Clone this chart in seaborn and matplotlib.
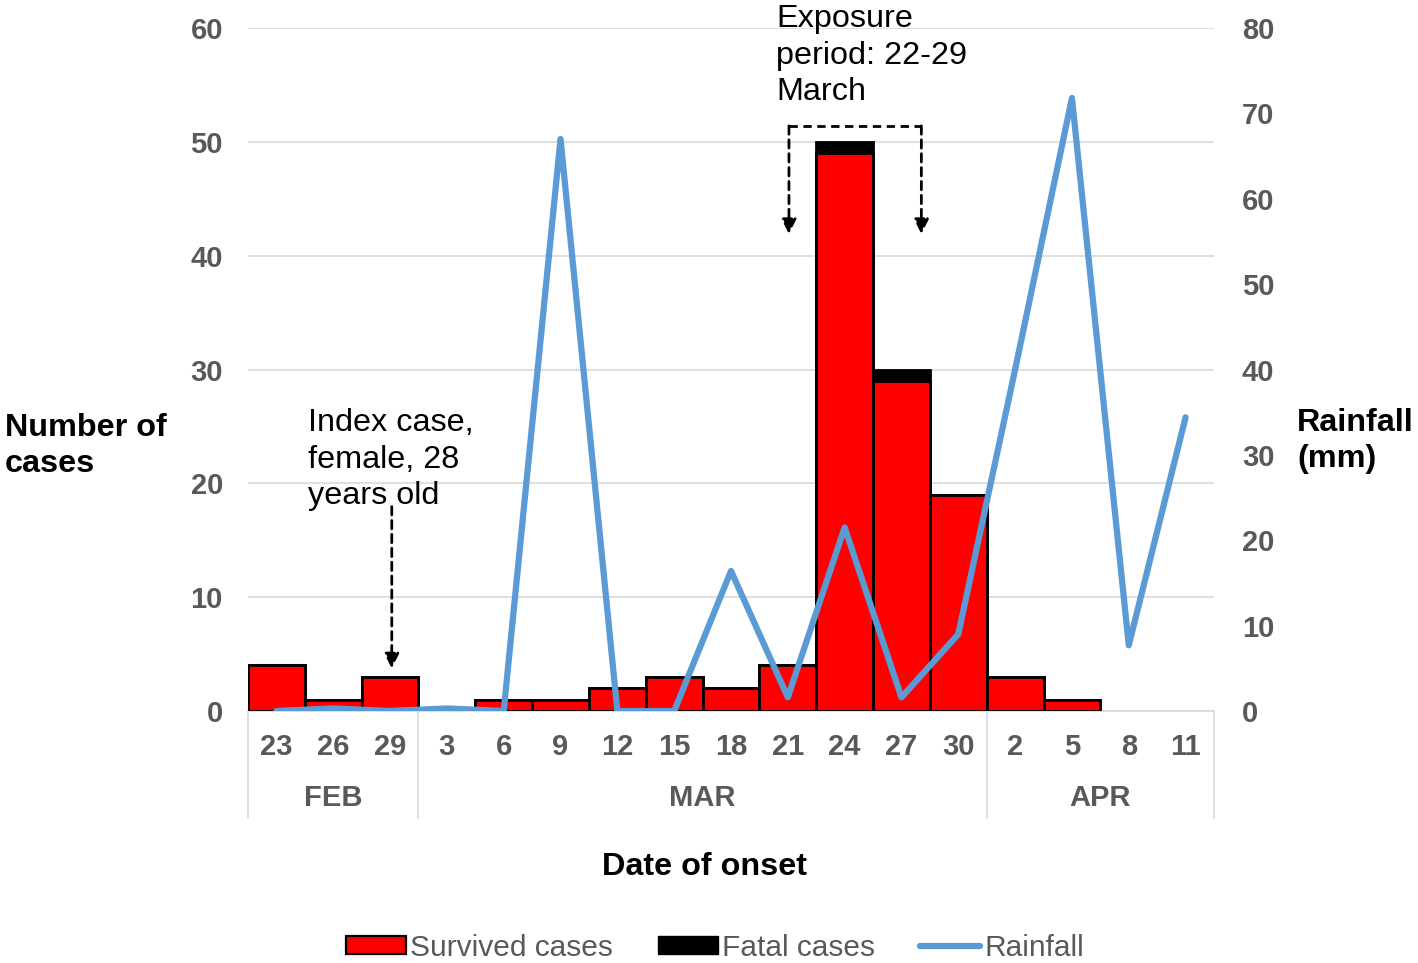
import numpy as np
import pandas as pd
import matplotlib
matplotlib.use("Agg")
import matplotlib.pyplot as plt
from matplotlib.patches import Patch
from matplotlib.lines import Line2D
import seaborn as sns

dates = ["23", "26", "29", "3", "6", "9", "12", "15", "18", "21", "24", "27", "30", "2", "5", "8", "11"]
months = ["FEB", "MAR", "APR"]
month_counts = [3, 10, 4]
survived = [4, 1, 3, 0, 1, 1, 2, 3, 2, 4, 49, 29, 19, 3, 1, 0, 0]
fatal = [0, 0, 0, 0, 0, 0, 0, 0, 0, 0, 1, 1, 0, 0, 0, 0, 0]
rainfall = [0, 0.3, 0, 0.3, 0, 67, 0, 0, 16.4, 1.6, 21.5, 1.6, 9, 40, 71.8, 7.7, 34.4]

sns.set_theme(style="white")
plt.rcParams['font.family'] = ['Liberation Sans', 'DejaVu Sans']

df = pd.DataFrame({"date": dates, "survived": survived, "fatal": fatal,
                   "total": np.array(survived) + np.array(fatal), "rain": rainfall})

fig = plt.figure(figsize=(14.18, 9.63), dpi=100)
ax = fig.add_axes([248/1418, 1 - 711/963, (1214-248)/1418, (711-28)/963])

gray = "#595959"
sns.barplot(data=df, x="date", y="total", order=dates, color="black", width=1.0,
            edgecolor="black", linewidth=2.0, saturation=1, ax=ax, zorder=2)
sns.barplot(data=df, x="date", y="survived", order=dates, color="#FF0000", width=1.0,
            edgecolor="black", linewidth=2.0, saturation=1, ax=ax, zorder=3)
for p in ax.patches:
    if p.get_height() == 0:
        p.set_visible(False)

ax.set_ylim(0, 60)
ax.set_xlim(-0.5, len(dates) - 0.5)
ax.set_yticks(range(0, 61, 10))
ax.yaxis.grid(True, color="#d9d9d9", linewidth=1.2, zorder=0)
ax.set_axisbelow(True)
for s in ["top", "right", "left"]:
    ax.spines[s].set_visible(False)
ax.spines["bottom"].set_color("#d9d9d9")
ax.spines["bottom"].set_linewidth(1.2)
ax.tick_params(axis="y", length=0, pad=18, labelsize=21, labelcolor=gray)
ax.tick_params(axis="x", length=0, pad=16, labelsize=21, labelcolor=gray)
for t in ax.get_yticklabels() + ax.get_xticklabels():
    t.set_fontweight("bold")
ax.set_xlabel("")
ax.set_ylabel("")

ax2 = ax.twinx()
sns.lineplot(x=np.arange(len(dates)), y=rainfall, ax=ax2, color="#5B9BD5", linewidth=4.5, zorder=5)
ax2.set_ylim(0, 80)
ax2.set_yticks(range(0, 81, 10))
for s in ["top", "right", "left", "bottom"]:
    ax2.spines[s].set_visible(False)
ax2.tick_params(axis="y", length=0, pad=20, labelsize=21, labelcolor=gray)
for t in ax2.get_yticklabels():
    t.set_fontweight("bold")
ax2.set_ylabel("")

# month group separators and labels
trans = ax.get_xaxis_transform()
bounds = np.concatenate([[0], np.cumsum(month_counts)]) - 0.5
sep_bottom = -(818 - 711) / (711 - 28)
for b in bounds:
    ax.plot([b, b], [0, sep_bottom], transform=trans, color="#d9d9d9", lw=1.2, clip_on=False)
for i, m in enumerate(months):
    ax.text((bounds[i] + bounds[i+1]) / 2, -(798 - 711) / (711 - 28), m, transform=trans,
            ha="center", va="center", fontsize=21, fontweight="bold", color=gray)

# axis titles
fig.text(5/1418, 1 - 446/963, "Number of\ncases", ha="left", va="center", fontsize=23.3,
         fontweight="bold", color="black", linespacing=1.3)
fig.text(1297/1418, 1 - 441/963, "Rainfall\n(mm)", ha="left", va="center", fontsize=23.3,
         fontweight="bold", color="black", linespacing=1.3)
fig.text(704/1418, 1 - 867/963, "Date of onset", ha="center", va="center", fontsize=23.3,
         fontweight="bold", color="black")

# annotations
ax.text(0.55, 26.6, "Index case,\nfemale, 28\nyears old", ha="left", va="top", fontsize=23.3,
        color="black", linespacing=1.28, zorder=6)
ax.annotate("", xy=(2.03, 3.5), xytext=(2.03, 18.2),
            arrowprops=dict(arrowstyle="-|>", linestyle=(0, (3, 2)), color="black", lw=2,
                            mutation_scale=22), zorder=6)
ax.text(8.8, 62.1, "Exposure\nperiod: 22-29\nMarch", ha="left", va="top", fontsize=23.3,
        color="black", linespacing=1.28, clip_on=False, zorder=6)
xl, xr, ytop, ytip = 9.02, 11.35, 51.4, 41.9
ax.plot([xl, xr], [ytop, ytop], color="black", lw=2, linestyle=(0, (3, 2)), zorder=6)
for xx in (xl, xr):
    ax.annotate("", xy=(xx, ytip), xytext=(xx, ytop),
                arrowprops=dict(arrowstyle="-|>", linestyle=(0, (3, 2)), color="black", lw=2,
                                mutation_scale=22, shrinkA=0, shrinkB=0), zorder=6)

# legend
handles = [Patch(facecolor="#FF0000", edgecolor="black", linewidth=1.6),
           Patch(facecolor="black", edgecolor="black"),
           Line2D([0], [0], color="#5B9BD5", lw=4.5)]
fig.legend(handles, ["Survived cases", "Fatal cases", "Rainfall"], loc="center",
           bbox_to_anchor=(715/1418, 1 - 948/963), ncol=3, frameon=False, fontsize=21.5,
           labelcolor=gray, handlelength=2.0, handleheight=0.55, handletextpad=0.15,
           columnspacing=1.5)

fig.savefig("out.png", dpi=100)
